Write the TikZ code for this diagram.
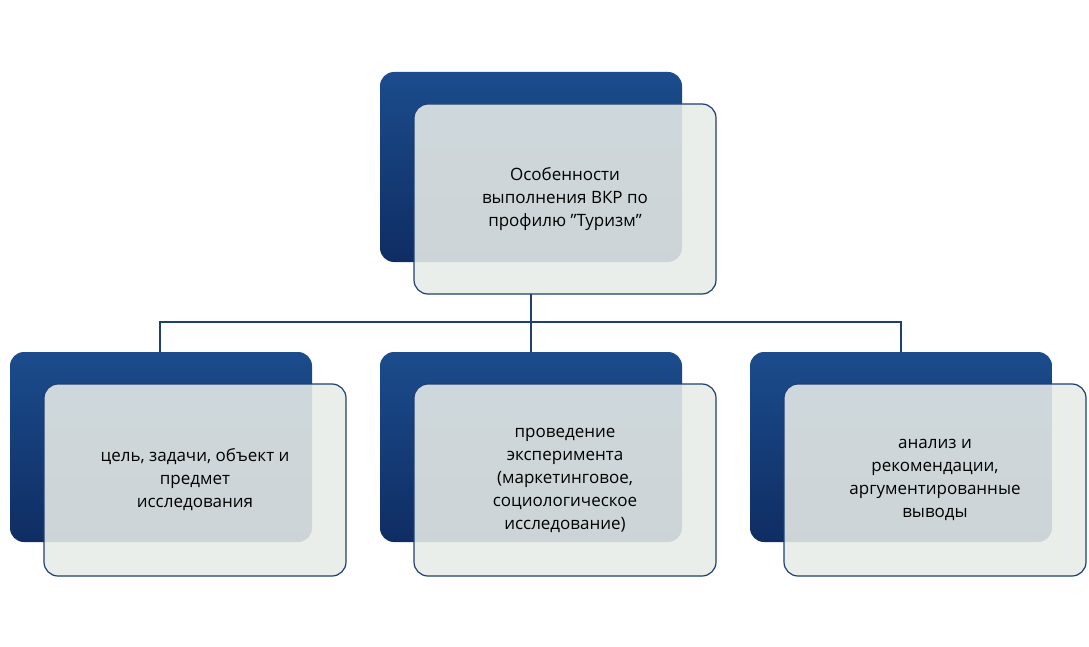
\documentclass[tikz,border=0pt]{standalone}
\usepackage{fontspec}
\setmainfont{Open Sans}
\begin{document}
\begin{tikzpicture}[x=1pt,y=-1pt,
 darkbox/.style={rounded corners=14pt,top color=darkA,bottom color=darkB,draw=none},
 lightbox/.style={rounded corners=14pt,fill=lightC,fill opacity=0.88,draw=edgeC,line width=1.2pt,text opacity=1},
 lbl/.style={align=center,font=\fontsize{17}{23}\selectfont,text=black},
 conn/.style={draw=edgeC,line width=1.2pt}]
\definecolor{darkA}{HTML}{1B4C8C}
\definecolor{darkB}{HTML}{0F2D63}
\definecolor{lightC}{HTML}{E8ECE8}
\definecolor{edgeC}{HTML}{1F3F70}
\useasboundingbox (0,0) rectangle (1089,647);
\fill[white] (0,0) rectangle (1089,647);
% top
\path[darkbox] (380,72) rectangle (682,262);
\path[lightbox] (414,104) rectangle (716,294);
\node[lbl] (t) at (565,199) {Особенности\\выполнения ВКР по\\профилю "Туризм"};
\coordinate (tb) at (531,294);
\coordinate (j) at (531,322);
% bottom boxes
\foreach \x in {10,380,750}{
 \path[darkbox] (\x,352) rectangle (\x+302,542);
 \path[lightbox] (\x+34,384) rectangle (\x+336,576);
}
\coordinate (atop) at (160,352);
\coordinate (btop) at (531,352);
\coordinate (ctop) at (901,352);
\node[lbl] (la) at (195,480) {цель, задачи, объект и\\предмет\\исследования};
\node[lbl] (lb) at (565,480) {проведение\\эксперимента\\(маркетинговое,\\социологическое\\исследование)};
\node[lbl] (lc) at (935,480) {анализ и\\рекомендации,\\аргументированные\\выводы};
\draw[conn] (tb) -- (j);
\draw[conn] (atop) |- (j) -| (ctop);
\draw[conn] (j) -- (btop);
\end{tikzpicture}
\end{document}
